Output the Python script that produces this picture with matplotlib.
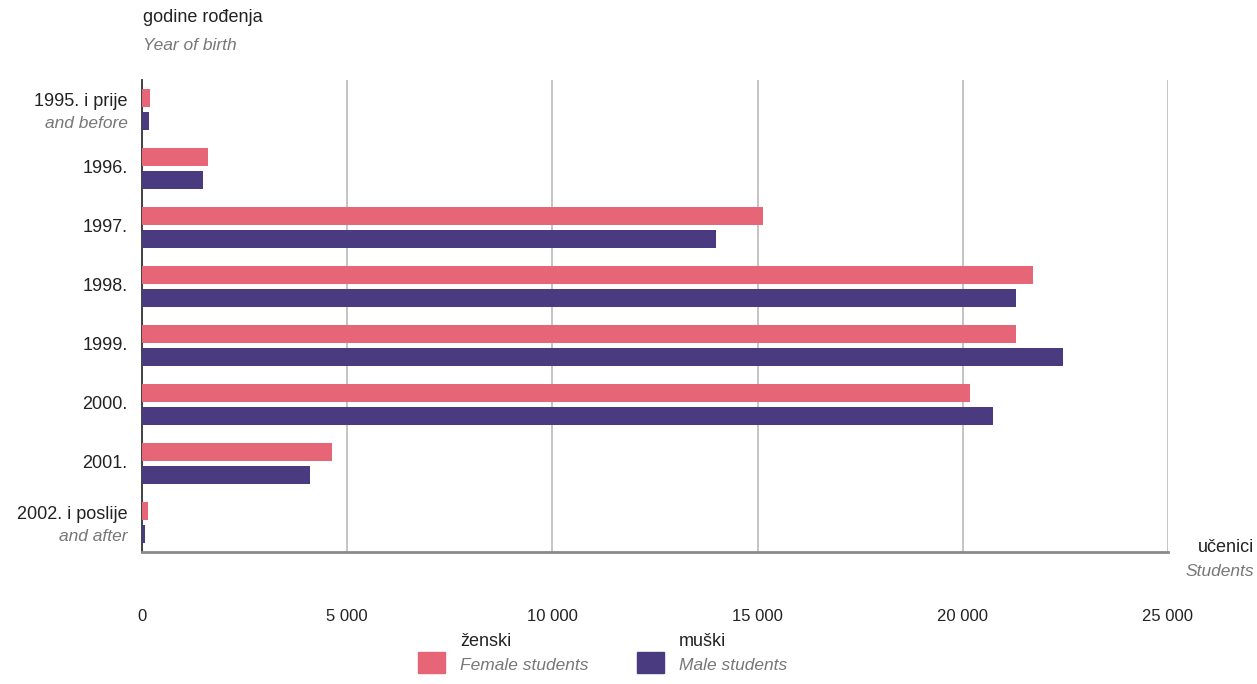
import matplotlib
matplotlib.use("Agg")
import matplotlib.pyplot as plt
from matplotlib.patches import Rectangle
from matplotlib.transforms import blended_transform_factory

plt.rcParams['font.family'] = ['Liberation Sans', 'DejaVu Sans']

categories = ["1995. i prije", "1996.", "1997.", "1998.", "1999.", "2000.", "2001.", "2002. i poslije"]
subcategories = ["and before", "", "", "", "", "", "", "and after"]
female = [200, 1620, 15120, 21700, 21290, 20180, 4640, 150]
male = [180, 1480, 13990, 21290, 22450, 20740, 4100, 80]
xticks = [0, 5000, 10000, 15000, 20000, 25000]
xticklabels = ["0", "5 000", "10 000", "15 000", "20 000", "25 000"]

C_F = "#E66677"
C_M = "#4A3A80"
DARK = "#222222"
GRAY = "#777777"

fig = plt.figure(figsize=(12.57, 6.84), dpi=100)
ax = fig.add_axes([142/1257, 1-552/684, (1168-142)/1257, (552-80)/684])

ys = list(range(len(categories)))
h = 0.31
off = 0.195
ax.barh([y - off for y in ys], female, height=h, color=C_F, zorder=3)
ax.barh([y + off for y in ys], male, height=h, color=C_M, zorder=3)

ax.set_xlim(0, 25000)
ax.set_ylim(len(categories) - 0.5, -0.5)
ax.set_xticks(xticks)
ax.set_xticklabels(xticklabels, fontsize=12, color=DARK)
ax.tick_params(axis='x', length=0, pad=41)
ax.set_yticks([])
for x in xticks[1:]:
    ax.axvline(x, color="#c4c4c4", lw=1.4, zorder=1)
for s in ["top", "right"]:
    ax.spines[s].set_visible(False)
ax.spines["left"].set_color("#333333")
ax.spines["left"].set_linewidth(1.3)
ax.spines["bottom"].set_color("#8a8a8a")
ax.spines["bottom"].set_linewidth(2)

tr = blended_transform_factory(ax.transAxes, ax.transData)
for y, c, s in zip(ys, categories, subcategories):
    if s:
        ax.text(-0.014, y - 0.13, c, transform=tr, ha='right', va='center', fontsize=13, color=DARK)
        ax.text(-0.014, y + 0.24, s, transform=tr, ha='right', va='center', fontsize=12.5, color=GRAY, style='italic')
    else:
        ax.text(-0.014, y, c, transform=tr, ha='right', va='center', fontsize=13, color=DARK)

fig.text(143/1257, 1-18/684, "godine rođenja", fontsize=13, color=DARK, ha='left', va='center')
fig.text(143/1257, 1-45/684, "Year of birth", fontsize=12.5, color=GRAY, ha='left', va='center', style='italic')
fig.text(1254/1257, 1-548/684, "učenici", fontsize=13, color=DARK, ha='right', va='center')
fig.text(1254/1257, 1-571/684, "Students", fontsize=12.5, color=GRAY, ha='right', va='center', style='italic')

# legend
for x0, col, t1, t2 in [(418, C_F, "ženski", "Female students"), (637, C_M, "muški", "Male students")]:
    fig.patches.append(Rectangle((x0/1257, 1-673/684), 27/1257, 21/684, transform=fig.transFigure, color=col))
    fig.text((x0+42)/1257, 1-641/684, t1, fontsize=13, color=DARK, ha='left', va='center')
    fig.text((x0+42)/1257, 1-665/684, t2, fontsize=12.5, color=GRAY, ha='left', va='center', style='italic')

fig.savefig("out.png", dpi=100, facecolor="white")
